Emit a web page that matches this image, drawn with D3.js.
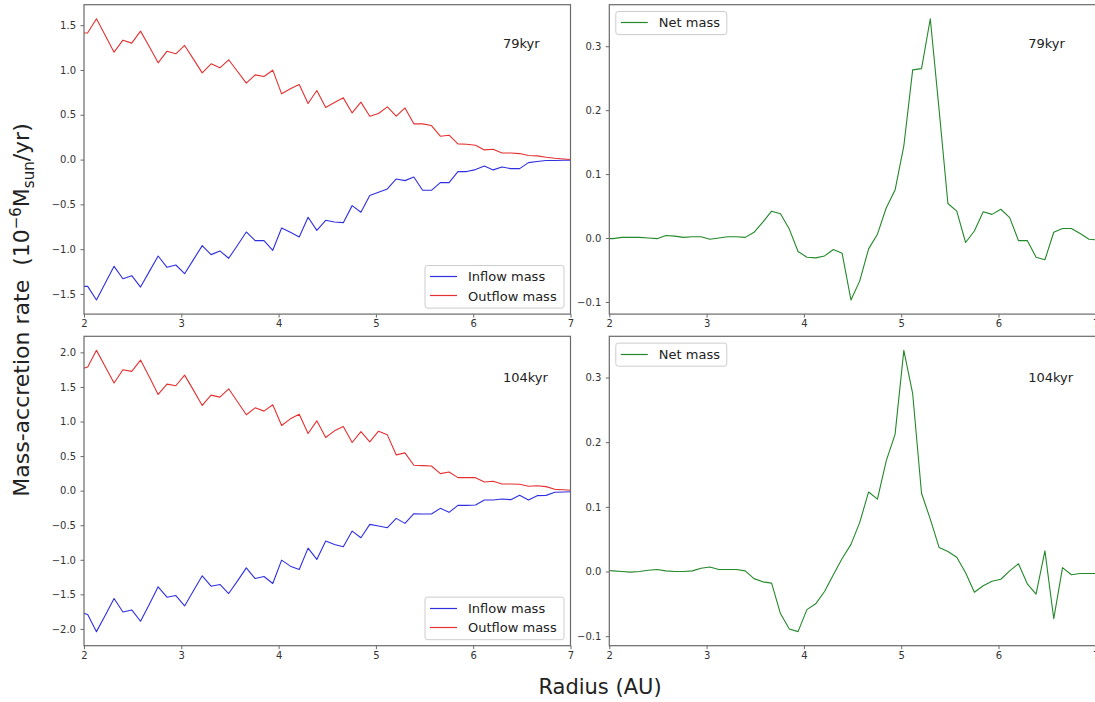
<!DOCTYPE html>
<html>
<head>
<meta charset="utf-8">
<script src="https://cdn.jsdelivr.net/npm/d3@7"></script>
<style>
  body { margin: 0; background: #fff; }
  svg { display: block; font-family: "DejaVu Sans", sans-serif; }
</style>
</head>
<body>
<div id="chart"></div>
<script>
// radial grid (AU), first and last points fall just outside the 2-7 window
var radius = [1.947, 2.038, 2.128, 2.219, 2.309, 2.400, 2.491, 2.581, 2.672, 2.762,
  2.853, 2.944, 3.034, 3.125, 3.215, 3.306, 3.397, 3.487, 3.578, 3.668,
  3.759, 3.850, 3.940, 4.031, 4.121, 4.212, 4.303, 4.393, 4.484, 4.574,
  4.665, 4.756, 4.846, 4.937, 5.027, 5.118, 5.209, 5.299, 5.390, 5.480,
  5.571, 5.662, 5.752, 5.843, 5.933, 6.024, 6.115, 6.205, 6.296, 6.386,
  6.477, 6.568, 6.658, 6.749, 6.839, 6.930, 7.021];

// 79 kyr
var outflow79 = [1.41, 1.415, 1.572, 1.385, 1.199, 1.333, 1.300, 1.434, 1.259, 1.080,
  1.210, 1.181, 1.274, 1.121, 0.968, 1.069, 1.024, 1.114, 0.983, 0.853,
  0.946, 0.927, 0.998, 0.734, 0.790, 0.838, 0.626, 0.771, 0.581, 0.637,
  0.689, 0.521, 0.641, 0.484, 0.514, 0.588, 0.484, 0.577, 0.399, 0.399,
  0.380, 0.261, 0.272, 0.175, 0.171, 0.160, 0.108, 0.115, 0.074, 0.074,
  0.067, 0.045, 0.041, 0.026, 0.015, 0.007, 0.000];
var inflow79 = [-1.415, -1.415, -1.568, -1.378, -1.192, -1.330, -1.296, -1.423, -1.248, -1.076,
  -1.203, -1.177, -1.274, -1.117, -0.961, -1.061, -1.020, -1.102, -0.957, -0.808,
  -0.905, -0.905, -1.013, -0.764, -0.812, -0.864, -0.644, -0.790, -0.678, -0.696,
  -0.704, -0.514, -0.588, -0.402, -0.365, -0.328, -0.216, -0.235, -0.194, -0.343,
  -0.343, -0.257, -0.257, -0.134, -0.134, -0.112, -0.071, -0.115, -0.082, -0.101,
  -0.101, -0.034, -0.022, -0.011, -0.011, -0.007, -0.007];
var net79 = [-0.001, -0.001, 0.001, 0.001, 0.001, 0.000, -0.001, 0.004, 0.003, 0.001,
  0.002, 0.002, -0.002, 0.000, 0.002, 0.002, 0.001, 0.009, 0.025, 0.042,
  0.038, 0.014, -0.021, -0.030, -0.031, -0.028, -0.018, -0.024, -0.097, -0.067,
  -0.017, 0.006, 0.047, 0.075, 0.144, 0.263, 0.265, 0.343, 0.200, 0.054,
  0.042, -0.007, 0.011, 0.041, 0.037, 0.045, 0.032, -0.004, -0.004, -0.030,
  -0.034, 0.009, 0.015, 0.015, 0.007, -0.002, -0.003];

// 104 kyr
var outflow104 = [1.75, 1.787, 2.029, 1.792, 1.556, 1.749, 1.725, 1.889, 1.643, 1.391,
  1.541, 1.517, 1.671, 1.454, 1.232, 1.382, 1.353, 1.473, 1.285, 1.097,
  1.198, 1.150, 1.242, 0.942, 1.039, 1.106, 0.826, 1.010, 0.768, 0.865,
  0.928, 0.696, 0.855, 0.705, 0.860, 0.807, 0.517, 0.546, 0.367, 0.362,
  0.357, 0.246, 0.271, 0.188, 0.188, 0.188, 0.126, 0.135, 0.097, 0.097,
  0.092, 0.063, 0.072, 0.058, 0.019, 0.014, 0.005];
var inflow104 = [-1.75, -1.792, -2.039, -1.802, -1.560, -1.754, -1.725, -1.889, -1.643, -1.391,
  -1.541, -1.517, -1.667, -1.449, -1.232, -1.382, -1.357, -1.488, -1.304, -1.116,
  -1.271, -1.242, -1.343, -1.005, -1.092, -1.140, -0.831, -0.995, -0.729, -0.778,
  -0.812, -0.585, -0.681, -0.488, -0.512, -0.536, -0.401, -0.473, -0.333, -0.338,
  -0.338, -0.256, -0.314, -0.213, -0.213, -0.208, -0.135, -0.135, -0.121, -0.130,
  -0.068, -0.135, -0.072, -0.068, -0.024, -0.019, -0.014];
var net104 = [0.002, 0.001, 0.000, -0.001, 0.000, 0.002, 0.003, 0.001, 0.000, 0.000,
  0.001, 0.005, 0.007, 0.003, 0.003, 0.003, 0.001, -0.011, -0.016, -0.018,
  -0.065, -0.089, -0.093, -0.059, -0.050, -0.031, -0.005, 0.020, 0.042, 0.076,
  0.123, 0.112, 0.171, 0.212, 0.342, 0.275, 0.121, 0.081, 0.037, 0.031,
  0.022, -0.002, -0.032, -0.022, -0.015, -0.012, 0.001, 0.012, -0.019, -0.035,
  0.032, -0.073, 0.006, -0.005, -0.003, -0.003, -0.003];

var xTicks = [2, 3, 4, 5, 6, 7];
var flowTicks79 = [-1.5, -1.0, -0.5, 0.0, 0.5, 1.0, 1.5];
var flowTicks104 = [-2.0, -1.5, -1.0, -0.5, 0.0, 0.5, 1.0, 1.5, 2.0];
var netTicks = [-0.1, 0.0, 0.1, 0.2, 0.3];
var stageLabels = ["79kyr", "104kyr"];
var flowNames = ["Inflow mass", "Outflow mass"];
var netNames = ["Net mass"];

var width = 1095, height = 702;
var pw = 486.5, ph = 309.4;
var axisColor = "#6a6a6a", textColor = "#333";
var inColor = "#2f2fe2", outColor = "#e53030", netColor = "#23882a";

var svg = d3.select("#chart").append("svg")
  .attr("width", width)
  .attr("height", height);

var panels = [
  { left: 84, top: 4.7, series: [inflow79, outflow79], colors: [inColor, outColor], names: flowNames, ticks: flowTicks79, stage: 0, legend: "lowerRight", labelY: 43.5 },
  { left: 609.3, top: 4.7, series: [net79], colors: [netColor], names: netNames, ticks: netTicks, stage: 0, legend: "upperLeft", labelY: 43.5 },
  { left: 84, top: 336.3, series: [inflow104, outflow104], colors: [inColor, outColor], names: flowNames, ticks: flowTicks104, stage: 1, legend: "lowerRight", labelY: 45.5 },
  { left: 609.3, top: 336.3, series: [net104], colors: [netColor], names: netNames, ticks: netTicks, stage: 1, legend: "upperLeft", labelY: 45.5 }
];

panels.forEach(drawPanel);

function drawPanel(p, i) {
  var x = d3.scaleLinear().domain([2, 7]).range([0, pw]);
  // matplotlib style autoscale: 5% margin on the data extent
  var ext = d3.extent([].concat.apply([], p.series));
  var pad = (ext[1] - ext[0]) * 0.05;
  var y = d3.scaleLinear().domain([ext[0] - pad, ext[1] + pad]).range([ph, 0]);

  var g = svg.append("g").attr("transform", "translate(" + p.left + "," + p.top + ")");

  g.append("clipPath").attr("id", "clip-" + i)
    .append("rect").attr("width", pw).attr("height", ph);

  var line = d3.line()
    .x(function(d, j) { return x(radius[j]); })
    .y(function(d) { return y(d); });

  g.selectAll("path.series")
    .data(p.series)
    .enter().append("path")
    .attr("class", "series")
    .attr("clip-path", "url(#clip-" + i + ")")
    .attr("d", line)
    .attr("fill", "none")
    .attr("stroke", function(d, k) { return p.colors[k]; })
    .attr("stroke-width", 1.1)
    .attr("stroke-linejoin", "round");

  var xAxis = d3.axisBottom(x).tickValues(xTicks).tickFormat(d3.format("d"))
    .tickSize(3.5).tickSizeOuter(0).tickPadding(2.5);
  var yAxis = d3.axisLeft(y).tickValues(p.ticks).tickFormat(d3.format(".1f"))
    .tickSize(3.5).tickSizeOuter(0).tickPadding(4.5);

  var gx = g.append("g").attr("transform", "translate(0," + ph + ")").call(xAxis);
  var gy = g.append("g").call(yAxis);
  [gx, gy].forEach(function(a) {
    a.select(".domain").remove();
    a.selectAll(".tick line").attr("stroke", axisColor).attr("stroke-width", 1);
    a.selectAll(".tick text").attr("fill", textColor)
      .style("font-size", "10px").style("font-family", "DejaVu Sans");
  });

  // frame
  g.append("rect")
    .attr("width", pw).attr("height", ph)
    .attr("fill", "none")
    .attr("stroke", axisColor)
    .attr("stroke-width", 1.2);

  // time stamp
  g.append("text")
    .attr("x", pw * 0.861)
    .attr("y", p.labelY)
    .attr("fill", "#222")
    .style("font-size", "13px")
    .text(stageLabels[p.stage]);

  drawLegend(g, p);
}

function drawLegend(g, p) {
  var rowH = 19.5;
  var boxW = p.legend === "lowerRight" ? 139 : 111;
  var boxH = rowH * p.names.length + 3.6;
  var bx = p.legend === "lowerRight" ? pw - 6.5 - boxW : 6.5;
  var by = p.legend === "lowerRight" ? ph - 6 - boxH : 6.8;

  var lg = g.append("g").attr("transform", "translate(" + bx + "," + by + ")");
  lg.append("rect")
    .attr("width", boxW).attr("height", boxH)
    .attr("rx", 2.5)
    .attr("fill", "#fff").attr("fill-opacity", 0.8)
    .attr("stroke", "#cccccc").attr("stroke-width", 1);

  var row = lg.selectAll("g.row")
    .data(p.names)
    .enter().append("g")
    .attr("class", "row")
    .attr("transform", function(d, k) { return "translate(0," + (11 + k * rowH) + ")"; });
  // keep the sample line centred on a device pixel row
  row.append("line")
    .attr("x1", 5).attr("x2", 32)
    .attr("y1", function(d, k) { var a = p.top + by + 11 + k * rowH; return Math.floor(a) + 0.5 - a; })
    .attr("y2", function(d, k) { var a = p.top + by + 11 + k * rowH; return Math.floor(a) + 0.5 - a; })
    .attr("stroke", function(d, k) { return p.colors[k]; })
    .attr("stroke-width", 1.2);
  row.append("text")
    .attr("x", 43).attr("dy", "0.35em")
    .attr("fill", "#222")
    .style("font-size", "13px")
    .text(function(d) { return d; });
}

// axis titles
var yl = svg.append("text")
  .attr("transform", "translate(29,310) rotate(-90)")
  .attr("text-anchor", "middle")
  .attr("fill", "#222")
  .style("font-size", "22px")
  .style("white-space", "pre");
yl.append("tspan").text("Mass-accretion rate  (10");
yl.append("tspan").attr("dy", -8).style("font-size", "15px").text("\u22126");
yl.append("tspan").attr("dy", 8).text("M");
yl.append("tspan").attr("dy", 5).style("font-size", "15px").text("sun");
yl.append("tspan").attr("dy", -5).text("/yr)");

svg.append("text")
  .attr("x", 600)
  .attr("y", 694)
  .attr("text-anchor", "middle")
  .attr("fill", "#222")
  .style("font-size", "21px")
  .text("Radius (AU)");
</script>
</body>
</html>
